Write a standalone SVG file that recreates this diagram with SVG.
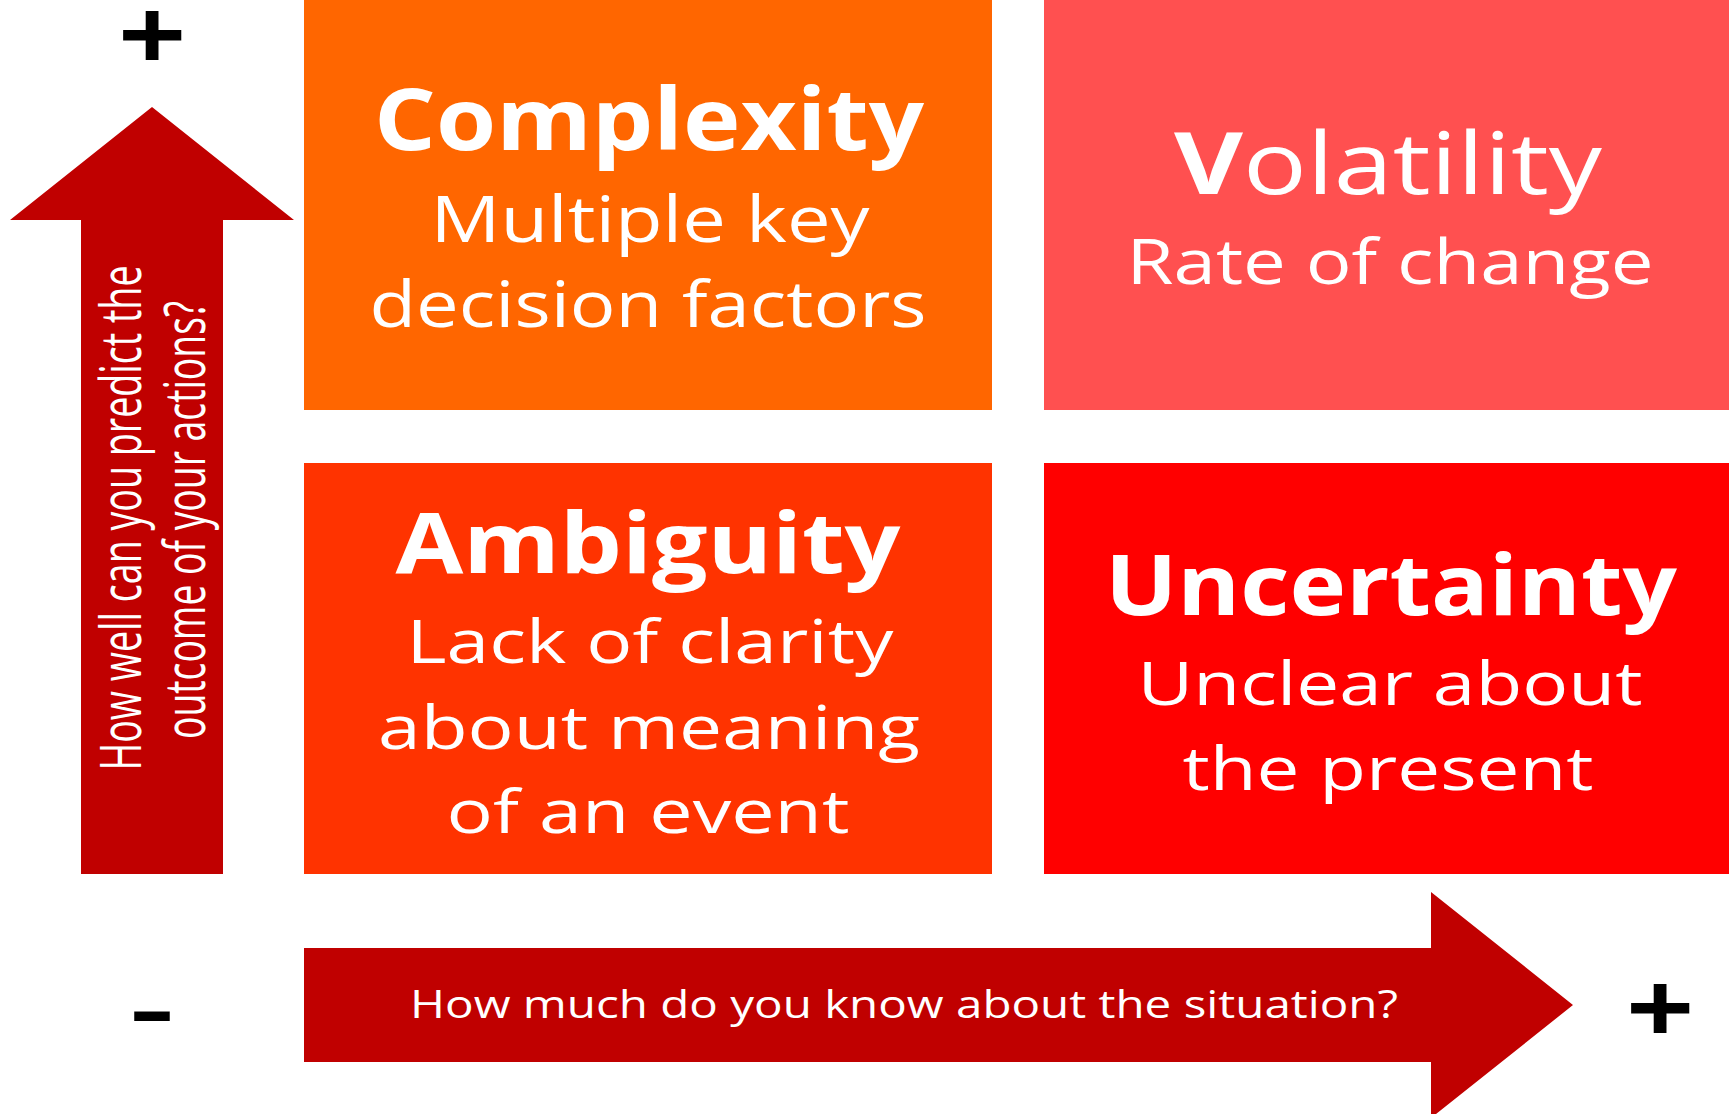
<svg xmlns="http://www.w3.org/2000/svg" width="1729" height="1114" viewBox="0 0 1729 1114">
<style>
.t{font-family:"Open Sans","Liberation Sans",sans-serif;fill:#fff;text-anchor:middle}
.b{font-weight:700}
.sign{font-family:"Liberation Sans",Arial,sans-serif;font-weight:700;fill:#000;text-anchor:middle}
.arrow{fill:#C00000}
</style>
<rect width="1729" height="1114" fill="#fff"/>
<g id="axes">
  <polygon class="arrow" points="152,107 294,220 223,220 223,874 81,874 81,220 10,220"/>
  <polygon class="arrow" points="304,948 1431,948 1431,892 1573,1005 1431,1118 1431,1062 304,1062"/>
  <text class="t" font-size="57" transform="translate(141,518) rotate(-90)" textLength="505" lengthAdjust="spacingAndGlyphs">How well can you predict the</text>
  <text class="t" font-size="57" transform="translate(205,520) rotate(-90)" textLength="438" lengthAdjust="spacingAndGlyphs">outcome of your actions?</text>
  <text class="t" font-size="38" x="904" y="1018" textLength="988" lengthAdjust="spacingAndGlyphs">How much do you know about the situation?</text>
</g>
<g id="signs">
  <text class="sign" font-size="116" transform="translate(152,33) scale(1,0.83)" y="42.6">+</text>
  <text class="sign" font-size="116" transform="translate(1660,1006) scale(1,0.83)" y="42.6">+</text>
  <text class="sign" font-size="80" font-weight="400" transform="translate(152,1014) scale(1.75,1)" y="22.8">-</text>
</g>
<g id="complexity">
  <rect x="304" y="0" width="688" height="410" fill="#FF6600"/>
  <text class="t b" font-size="86" x="649" y="150" textLength="550" lengthAdjust="spacingAndGlyphs">Complexity</text>
  <text class="t" font-size="64" x="650" y="242" textLength="439" lengthAdjust="spacingAndGlyphs">Multiple key</text>
  <text class="t" font-size="64" x="648" y="327" textLength="557" lengthAdjust="spacingAndGlyphs">decision factors</text>
</g>
<g id="volatility">
  <rect x="1044" y="0" width="685" height="410" fill="#FF5050"/>
  <text class="t" font-size="86" x="1388" y="194" textLength="428" lengthAdjust="spacingAndGlyphs"><tspan font-weight="700">V</tspan>olatility</text>
  <text class="t" font-size="62" x="1390" y="284" textLength="527" lengthAdjust="spacingAndGlyphs">Rate of change</text>
</g>
<g id="ambiguity">
  <rect x="304" y="463" width="688" height="411" fill="#FF3300"/>
  <text class="t b" font-size="84" x="648" y="573" textLength="505" lengthAdjust="spacingAndGlyphs">Ambiguity</text>
  <text class="t" font-size="61" x="650" y="663" textLength="487" lengthAdjust="spacingAndGlyphs">Lack of clarity</text>
  <text class="t" font-size="61" x="649" y="749" textLength="542" lengthAdjust="spacingAndGlyphs">about meaning</text>
  <text class="t" font-size="61" x="648" y="833" textLength="403" lengthAdjust="spacingAndGlyphs">of an event</text>
</g>
<g id="uncertainty">
  <rect x="1044" y="463" width="685" height="411" fill="#FF0000"/>
  <text class="t b" font-size="84" x="1391" y="615" textLength="572" lengthAdjust="spacingAndGlyphs">Uncertainty</text>
  <text class="t" font-size="61" x="1390" y="705" textLength="505" lengthAdjust="spacingAndGlyphs">Unclear about</text>
  <text class="t" font-size="61" x="1388" y="790" textLength="411" lengthAdjust="spacingAndGlyphs">the present</text>
</g>
</svg>
